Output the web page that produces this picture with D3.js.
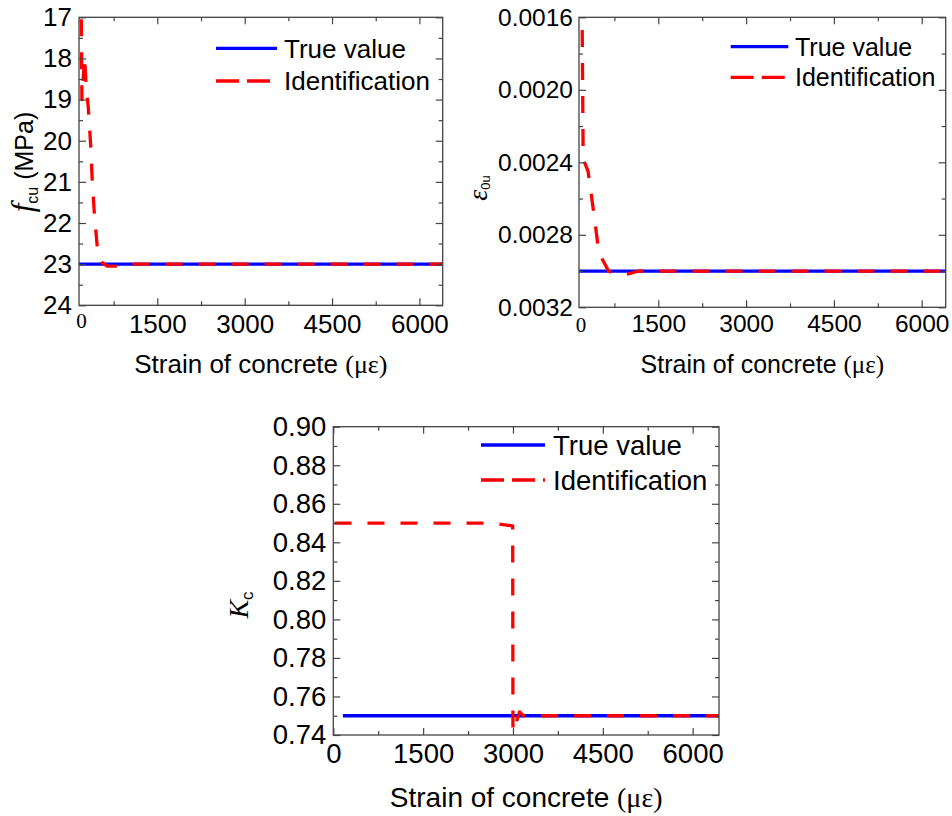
<!DOCTYPE html>
<html>
<head>
<meta charset="utf-8">
<script src="https://cdn.jsdelivr.net/npm/d3@7"></script>
<style>
  body { margin: 0; background: #fff; }
</style>
</head>
<body>
<svg id="chart" width="952" height="816"></svg>
<script>
// ---- Strain axis (με) ----
const strainTicks = [1500, 3000, 4500, 6000];
const strainTicksKc = [0, 1500, 3000, 4500, 6000];
const strainMinor = [750, 2250, 3750, 5250];

// ---- f_cu (MPa) ----
const fcuTicks = [17, 18, 19, 20, 21, 22, 23, 24];
const fcuMinor = [17.5, 18.5, 19.5, 20.5, 21.5, 22.5, 23.5];
const fcuTrueStrain = [155, 6400];
const fcuTrueValue = [23, 23];
const fcuIdStrain = [195, 205, 250, 275, 315, 355, 380, 420, 470, 540, 640, 980, 1100, 6400];
const fcuIdValue = [17.05, 19.0, 17.95, 18.6, 19.2, 20.1, 20.9, 21.8, 22.6, 22.95, 23.05, 23.05, 23.0, 23.0];

// ---- ε0u ----
const epsTicks = [0.0016, 0.0020, 0.0024, 0.0028, 0.0032];
const epsMinor = [0.0018, 0.0022, 0.0026, 0.0030];
const epsTrueStrain = [145, 6410];
const epsTrueValue = [0.0030, 0.0030];
const epsIdStrain = [200, 216, 300, 360, 430, 485, 650, 760, 1000, 1150, 6410];
const epsIdValue = [0.00167, 0.00238, 0.00245, 0.00259, 0.00276, 0.00290, 0.00300, 0.003015, 0.003015, 0.0030, 0.0030];

// ---- Kc ----
const kcTicks = [0.74, 0.76, 0.78, 0.80, 0.82, 0.84, 0.86, 0.88, 0.90];
const kcMinor = [0.75, 0.77, 0.79, 0.81, 0.83, 0.85, 0.87, 0.89];
const kcTrueStrain = [160, 6440];
const kcTrueValue = [0.75, 0.75];
const kcIdStrain = [20, 2650, 2995, 3000, 3110, 3170, 6440];
const kcIdValue = [0.850, 0.850, 0.8485, 0.7415, 0.752, 0.750, 0.750];

const legendLabels = ["True value", "Identification"];
const xTitle = "Strain of concrete ";
const xTitleUnit = "(με)";

const SANS = "'Liberation Sans', Arial, sans-serif";
const SERIF = "'Liberation Serif', 'Times New Roman', serif";
const FRAME = "#444";
const BLUE = "#0000ff";
const RED = "#ff0000";

const svg = d3.select("#chart");

function drawPanel(p) {
  const g = svg.append("g");
  const x = d3.scaleLinear().domain(p.xDomain).range([p.l, p.r]);
  const y = d3.scaleLinear().domain(p.yDomain)
    .range(p.yDown ? [p.t, p.b] : [p.b, p.t]);

  const clipId = "clip-" + p.name;
  svg.append("clipPath").attr("id", clipId)
    .append("rect").attr("x", p.l).attr("y", p.t)
    .attr("width", p.r - p.l).attr("height", p.b - p.t);

  const line = d3.line().x(d => x(d[0])).y(d => y(d[1]));
  const plot = g.append("g").attr("clip-path", `url(#${clipId})`);
  plot.append("path").datum(d3.zip(p.trueX, p.trueY))
    .attr("d", line).attr("fill", "none")
    .attr("stroke", BLUE).attr("stroke-width", 3.3);
  plot.append("path").datum(d3.zip(p.idX, p.idY))
    .attr("d", line).attr("fill", "none")
    .attr("stroke", RED).attr("stroke-width", 3.3)
    .attr("stroke-dasharray", "17,16")
    .attr("stroke-linejoin", "round");

  // ticks: inward, mirrored on all four sides
  function styleAxis(sel, fs) {
    sel.select(".domain").remove();
    sel.selectAll(".tick line").attr("stroke", FRAME).attr("stroke-width", 1.2);
    sel.selectAll("text").attr("font-size", fs).attr("font-family", SANS).attr("fill", "#000");
  }
  const bottom = g.append("g").attr("transform", `translate(0,${p.b})`)
    .call(d3.axisBottom(x).tickValues(p.xTicks).tickFormat(d3.format("d"))
      .tickSizeInner(-7).tickSizeOuter(0).tickPadding(p.xPad));
  styleAxis(bottom, p.fs);
  const bottomMinor = g.append("g").attr("transform", `translate(0,${p.b})`)
    .call(d3.axisBottom(x).tickValues(p.xMinor).tickFormat("").tickSizeInner(-4).tickSizeOuter(0));
  styleAxis(bottomMinor, p.fs);
  const top = g.append("g").attr("transform", `translate(0,${p.t})`)
    .call(d3.axisTop(x).tickValues(p.xTicks).tickFormat("").tickSizeInner(-7).tickSizeOuter(0));
  styleAxis(top, p.fs);
  const topMinor = g.append("g").attr("transform", `translate(0,${p.t})`)
    .call(d3.axisTop(x).tickValues(p.xMinor).tickFormat("").tickSizeInner(-4).tickSizeOuter(0));
  styleAxis(topMinor, p.fs);

  const left = g.append("g").attr("transform", `translate(${p.l},0)`)
    .call(d3.axisLeft(y).tickValues(p.yTicks).tickFormat(p.yFormat)
      .tickSizeInner(-7).tickSizeOuter(0).tickPadding(p.yPad));
  styleAxis(left, p.fs);
  const leftMinor = g.append("g").attr("transform", `translate(${p.l},0)`)
    .call(d3.axisLeft(y).tickValues(p.yMinor).tickFormat("").tickSizeInner(-4).tickSizeOuter(0));
  styleAxis(leftMinor, p.fs);
  const right = g.append("g").attr("transform", `translate(${p.r},0)`)
    .call(d3.axisRight(y).tickValues(p.yTicks).tickFormat("").tickSizeInner(-7).tickSizeOuter(0));
  styleAxis(right, p.fs);
  const rightMinor = g.append("g").attr("transform", `translate(${p.r},0)`)
    .call(d3.axisRight(y).tickValues(p.yMinor).tickFormat("").tickSizeInner(-4).tickSizeOuter(0));
  styleAxis(rightMinor, p.fs);

  // frame
  g.append("rect").attr("x", p.l).attr("y", p.t)
    .attr("width", p.r - p.l).attr("height", p.b - p.t)
    .attr("fill", "none").attr("stroke", FRAME).attr("stroke-width", 1.3);

  // origin label set in a serif face at the left edge
  if (p.zeroLabel) {
    g.append("text").attr("x", p.l + p.zeroLabel.dx).attr("y", p.b + p.zeroLabel.dy)
      .attr("text-anchor", "middle").attr("font-family", SERIF)
      .attr("font-size", 21).attr("fill", "#000").text("0");
  }

  // x-axis title
  const xt = g.append("text").attr("x", (p.l + p.r) / 2).attr("y", p.b + p.titleDy)
    .attr("text-anchor", "middle").attr("font-size", p.titleFs).attr("fill", "#000");
  xt.append("tspan").attr("font-family", SANS).text(xTitle);
  xt.append("tspan").attr("font-family", SERIF).text(xTitleUnit);

  // y-axis title
  const yt = g.append("text")
    .attr("transform", `translate(${p.yTitle.x},${p.yTitle.y}) rotate(-90)`)
    .attr("text-anchor", "middle").attr("fill", "#000");
  p.yTitle.parts.forEach(part => {
    const ts = yt.append("tspan").attr("font-family", part.serif ? SERIF : SANS)
      .attr("font-size", part.fs).text(part.text);
    if (part.italic) ts.attr("font-style", "italic");
    if (part.dy) ts.attr("dy", part.dy);
  });

  // legend
  const lg = p.legend;
  const rows = [
    { label: legendLabels[0], color: BLUE, dash: null, y: lg.y1 },
    { label: legendLabels[1], color: RED, dash: "23,8", y: lg.y2 }
  ];
  rows.forEach(r => {
    const ln = g.append("line").attr("x1", lg.x1).attr("x2", lg.x2)
      .attr("y1", r.y).attr("y2", r.y)
      .attr("stroke", r.color).attr("stroke-width", 3.3);
    if (r.dash) ln.attr("stroke-dasharray", r.dash);
    g.append("text").attr("x", lg.tx).attr("y", r.y + lg.fs * 0.36)
      .attr("font-family", SANS).attr("font-size", lg.fs).attr("fill", "#000")
      .text(r.label);
  });
}

drawPanel({
  name: "fcu", l: 79, r: 442.7, t: 17.3, b: 305.3,
  xDomain: [155, 6400], yDomain: [17, 24], yDown: true,
  xTicks: strainTicks, xMinor: strainMinor, yTicks: fcuTicks, yMinor: fcuMinor,
  yFormat: d3.format("d"), fs: 26, xPad: 9.5, yPad: 7,
  trueX: fcuTrueStrain, trueY: fcuTrueValue, idX: fcuIdStrain, idY: fcuIdValue,
  zeroLabel: { dx: 2.5, dy: 22.7 },
  titleDy: 68, titleFs: 26,
  yTitle: { x: 33, y: 162, parts: [
    { text: "f", serif: true, italic: true, fs: 31 },
    { text: "cu", fs: 16, dy: 5 },
    { text: " (MPa)", fs: 25, dy: -5 }
  ] },
  legend: { x1: 216, x2: 277, y1: 48.3, y2: 81, tx: 284, fs: 26 }
});

drawPanel({
  name: "eps", l: 579, r: 945.7, t: 17.3, b: 307.3,
  xDomain: [145, 6410], yDomain: [0.0016, 0.0032], yDown: true,
  xTicks: strainTicks, xMinor: strainMinor, yTicks: epsTicks, yMinor: epsMinor,
  yFormat: d3.format(".4f"), fs: 24.5, xPad: 7.6, yPad: 6,
  trueX: epsTrueStrain, trueY: epsTrueValue, idX: epsIdStrain, idY: epsIdValue,
  zeroLabel: { dx: 2, dy: 24.4 },
  titleDy: 66, titleFs: 25,
  yTitle: { x: 487, y: 188, parts: [
    { text: "ε", serif: true, italic: true, fs: 28 },
    { text: "0u", fs: 13, dy: 3 }
  ] },
  legend: { x1: 730.7, x2: 788.3, y1: 46.7, y2: 77.3, tx: 795, fs: 25 }
});

drawPanel({
  name: "kc", l: 333.3, r: 719, t: 426.7, b: 735,
  xDomain: [0, 6440], yDomain: [0.74, 0.90], yDown: false,
  xTicks: strainTicksKc, xMinor: strainMinor, yTicks: kcTicks, yMinor: kcMinor,
  yFormat: d3.format(".2f"), fs: 27.5, xPad: 8.5, yPad: 7,
  trueX: kcTrueStrain, trueY: kcTrueValue, idX: kcIdStrain, idY: kcIdValue,
  zeroLabel: null,
  titleDy: 72, titleFs: 28,
  yTitle: { x: 248, y: 605, parts: [
    { text: "K", serif: true, italic: true, fs: 28 },
    { text: "c", fs: 17, dy: 5 }
  ] },
  legend: { x1: 481, x2: 545, y1: 445, y2: 480, tx: 553, fs: 27.5 }
});
</script>
</body>
</html>
